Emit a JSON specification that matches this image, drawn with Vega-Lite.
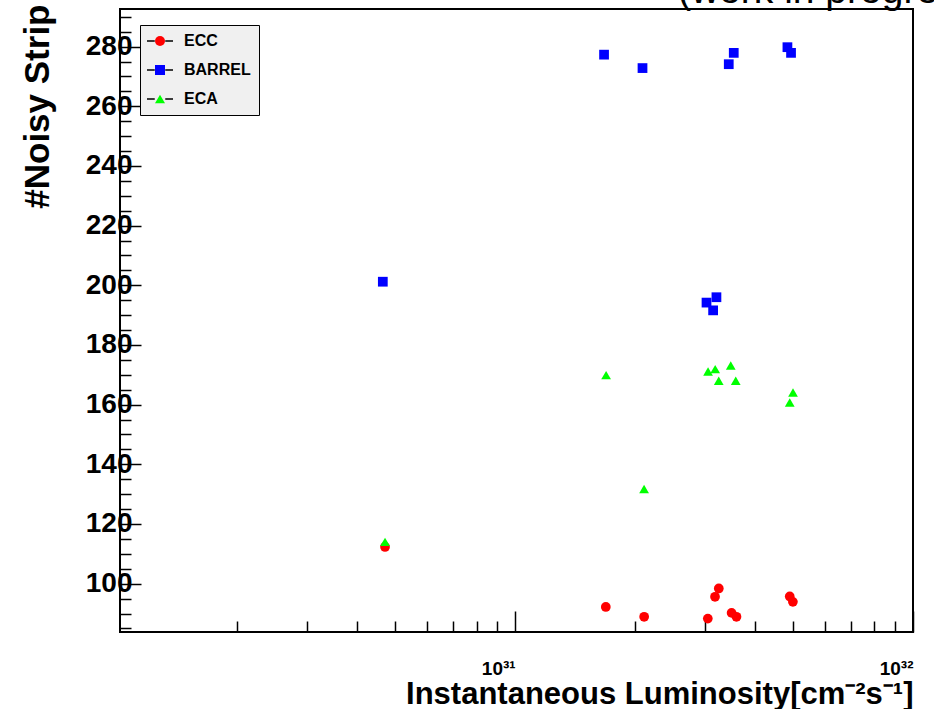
{
  "$schema": "https://vega.github.io/schema/vega-lite/v6.json",
  "width": 793,
  "height": 623,
  "autosize": {"type": "none"},
  "padding": {"left": 120, "top": 9, "right": 21, "bottom": 77},
  "background": "white",
  "config": {
    "font": "Liberation Sans",
    "view": {"stroke": "black", "strokeWidth": 2},
    "axis": {"domain": false, "grid": false, "tickColor": "black", "tickWidth": 1.5, "labelColor": "black", "titleColor": "black"}
  },
  "title": {"text": "(work in progress)", "anchor": "start", "frame": "group", "dx": 558, "offset": -38, "fontSize": 39, "fontWeight": "normal", "font": "Liberation Sans", "baseline": "alphabetic", "color": "black"},
  "data": {
    "values": [
      {"series": "ECC", "lumi": 4.71e30, "strips": 112.3},
      {"series": "ECC", "lumi": 1.69e31, "strips": 92.2},
      {"series": "ECC", "lumi": 2.11e31, "strips": 88.9},
      {"series": "ECC", "lumi": 3.05e31, "strips": 88.3},
      {"series": "ECC", "lumi": 3.18e31, "strips": 95.6},
      {"series": "ECC", "lumi": 3.25e31, "strips": 98.4},
      {"series": "ECC", "lumi": 3.50e31, "strips": 90.2},
      {"series": "ECC", "lumi": 3.60e31, "strips": 88.9},
      {"series": "ECC", "lumi": 4.90e31, "strips": 95.7},
      {"series": "ECC", "lumi": 4.99e31, "strips": 93.9},
      {"series": "BARREL", "lumi": 4.65e30, "strips": 201.2},
      {"series": "BARREL", "lumi": 1.673e31, "strips": 277.3},
      {"series": "BARREL", "lumi": 2.09e31, "strips": 272.8},
      {"series": "BARREL", "lumi": 3.027e31, "strips": 194.2},
      {"series": "BARREL", "lumi": 3.206e31, "strips": 196.0},
      {"series": "BARREL", "lumi": 3.145e31, "strips": 191.6},
      {"series": "BARREL", "lumi": 3.443e31, "strips": 274.1},
      {"series": "BARREL", "lumi": 3.544e31, "strips": 277.9},
      {"series": "BARREL", "lumi": 4.835e31, "strips": 279.8},
      {"series": "BARREL", "lumi": 4.937e31, "strips": 277.9},
      {"series": "ECA", "lumi": 4.71e30, "strips": 114.0},
      {"series": "ECA", "lumi": 1.693e31, "strips": 169.9},
      {"series": "ECA", "lumi": 2.109e31, "strips": 131.7},
      {"series": "ECA", "lumi": 3.054e31, "strips": 171.1},
      {"series": "ECA", "lumi": 3.183e31, "strips": 171.9},
      {"series": "ECA", "lumi": 3.249e31, "strips": 168.0},
      {"series": "ECA", "lumi": 3.483e31, "strips": 173.1},
      {"series": "ECA", "lumi": 3.585e31, "strips": 168.0},
      {"series": "ECA", "lumi": 4.994e31, "strips": 164.1},
      {"series": "ECA", "lumi": 4.90e31, "strips": 160.7}
    ]
  },
  "layer": [
    {
      "mark": {"type": "point", "filled": true, "opacity": 1, "strokeWidth": 0, "size": 95},
      "encoding": {
        "x": {
          "field": "lumi", "type": "quantitative",
          "scale": {"type": "log", "domain": [1.016e30, 1e32], "nice": false, "zero": false},
          "axis": {
            "values": [1e31, 1e32], "tickSize": -21,
            "labelExpr": "datum.value >= 5e31 ? '10³²' : '10³¹'",
            "labelAlign": "right", "labelBaseline": "alphabetic", "labelPadding": 63, "labelFontSize": 19, "labelFontWeight": "bold", "labelFlush": false, "labelOverlap": false, "labelBound": false,
            "title": "Instantaneous Luminosity[cm⁻²s⁻¹]", "titleFontSize": 31, "titleFontWeight": "bold",
            "titleAlign": "right", "titleBaseline": "alphabetic", "titleX": 793, "titleY": 71
          }
        },
        "y": {
          "field": "strips", "type": "quantitative",
          "scale": {"domain": [83.8, 292.6], "nice": false, "zero": false},
          "axis": {
            "values": [100, 120, 140, 160, 180, 200, 220, 240, 260, 280], "tickSize": -21,
            "labelFontSize": 28, "labelFontWeight": "bold", "labelPadding": 9, "labelOverlap": false,
            "title": "#Noisy Strip", "titleFontSize": 35, "titleFontWeight": "bold",
            "titleAngle": -90, "titleAlign": "right", "titleBaseline": "middle", "titleX": -83, "titleY": -5
          }
        },
        "color": {
          "field": "series", "type": "nominal",
          "scale": {"domain": ["ECC", "BARREL", "ECA"], "range": ["#ff0000", "#0000ff", "#00ff00"]},
          "legend": {
            "orient": "none", "legendX": 20, "legendY": 16, "fillColor": "#f0f0f0", "strokeColor": "black",
            "padding": 8, "symbolOffset": 4, "title": null, "labelFontSize": 16, "labelFontWeight": "bold", "labelColor": "black",
            "symbolSize": 100, "rowPadding": 13, "symbolStrokeWidth": 0, "labelOffset": 16,
            "labelExpr": "datum.label + '\u00a0\u00a0\u00a0\u00a0\u00a0\u00a0\u00a0\u00a0\u00a0\u00a0'"
          }
        },
        "shape": {
          "field": "series", "type": "nominal",
          "scale": {"domain": ["ECC", "BARREL", "ECA"], "range": ["circle", "square", "triangle-up"]}
        }
      }
    },
    {
      "mark": {"type": "point", "opacity": 0},
      "encoding": {
        "x": {
          "field": "lumi", "type": "quantitative",
          "axis": {"orient": "bottom", "values": [2e30, 3e30, 4e30, 5e30, 6e30, 7e30, 8e30, 9e30, 2e31, 3e31, 4e31, 5e31, 6e31, 7e31, 8e31, 9e31], "tickSize": -11, "labels": false, "title": null}
        },
        "y": {
          "field": "strips", "type": "quantitative",
          "axis": {"orient": "left", "values": [85, 90, 95, 105, 110, 115, 125, 130, 135, 145, 150, 155, 165, 170, 175, 185, 190, 195, 205, 210, 215, 225, 230, 235, 245, 250, 255, 265, 270, 275, 285, 290], "tickSize": -11, "labels": false, "title": null}
        }
      }
    },
    {
      "mark": {"type": "line", "opacity": 0},
      "encoding": {
        "x": {"field": "lumi", "type": "quantitative", "axis": null},
        "y": {"field": "strips", "type": "quantitative", "axis": null},
        "stroke": {
          "field": "series", "type": "nominal",
          "scale": {"domain": ["ECC", "BARREL", "ECA"], "range": ["black", "black", "black"]},
          "legend": {
            "orient": "top-left", "offset": 16, "symbolOffset": 8, "padding": 8, "title": null,
            "fillColor": null, "strokeColor": null,
            "symbolType": "M-2.6,0H-1.05M1.05,0H2.6", "symbolSize": 100, "symbolStrokeWidth": 1.5, "symbolOpacity": 1, "symbolFillColor": "transparent", "symbolStrokeColor": "black",
            "labelFontSize": 16, "labelFontWeight": "bold", "labelColor": "transparent", "rowPadding": 13, "labelOffset": 16,
            "labelExpr": "datum.label + '\u00a0\u00a0\u00a0\u00a0\u00a0\u00a0\u00a0\u00a0\u00a0\u00a0'"
          }
        }
      }
    }
  ],
  "resolve": {"axis": {"x": "independent", "y": "independent"}}
}
